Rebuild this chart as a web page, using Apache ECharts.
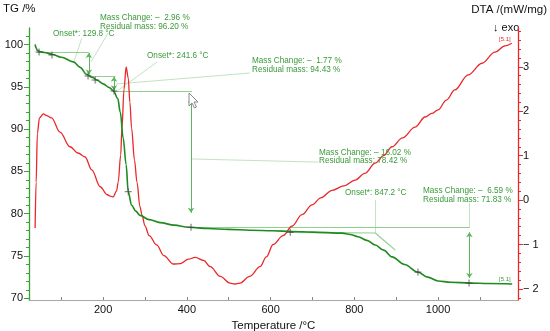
<!DOCTYPE html>
<html><head><meta charset="utf-8">
<script src="https://cdn.jsdelivr.net/npm/echarts@6/dist/echarts.min.js"></script>
<style>html,body{margin:0;padding:0;background:#fff}#c{width:550px;height:331px}</style>
</head><body><div id="c"></div>
<script>
// TG curve (Temperature °C, TG %)
const tgT = [37.6,40,43,50,60,78,100,129,145,161,175,185,200,215,225,235,241,248,255,260,268,278,288,310,336,370,404,450,500,550,606,650,700,771,790,809,830,850,870,890,920,952,975,1000,1030,1076,1120,1177];
const tgV = [100.0,99.6,99.3,99.15,99.05,98.85,98.5,97.95,97.3,96.45,96.1,95.8,95.35,94.9,94.5,93.6,92.0,88.9,85.8,82.6,81.0,80.3,79.8,79.3,78.95,78.65,78.4,78.25,78.15,78.05,77.98,77.9,77.82,77.7,77.55,77.28,76.85,76.3,75.7,74.9,74.0,73.1,72.5,72.05,71.9,71.8,71.75,71.7];
// DTA curve (Temperature °C, mW/mg)
const dtaT = [37.6,40,43,48,57.5,65,77,97,121,140,157,173,193,210,217,224,232,236,242,245,250,255,260,264,268,275,281,288,293,300,310,328,345,368,385,404,420,440,456,480,503,515,527,550,575,590,606,630,651,675,699,720,747,775,802,825,850,870,890,915,945,969,985,1000,1020,1040,1072,1105,1136,1160,1176];
const dtaV = [-0.63,0.4,1.5,1.85,1.94,1.9,1.85,1.53,1.2,1.06,0.97,0.68,0.3,0.12,0.09,0.07,0.2,0.4,1.01,1.62,2.5,3.0,2.75,2.2,1.62,0.9,0.4,-0.15,-0.34,-0.58,-0.8,-1.01,-1.25,-1.44,-1.43,-1.33,-1.29,-1.36,-1.5,-1.72,-1.87,-1.89,-1.87,-1.72,-1.5,-1.28,-1.0,-0.8,-0.59,-0.33,-0.11,0.05,0.22,0.32,0.45,0.6,0.83,1.0,1.2,1.4,1.64,1.87,1.95,2.03,2.25,2.48,2.82,3.08,3.33,3.47,3.53];
// "+" evaluation markers on TG
const markT = [47,78,164,181,226,260,410,647,952,1074];
const markV = [99.11,98.76,96.28,95.8,94.5,82.6,78.4,77.8,73.1,71.8];
// step levels (T1, TG1, T2, TG2)
const levelLines = [[42,99.1,166,99.1],[166,96.28,229,96.28],[224,94.5,412,94.5],[404,78.45,1076,78.45],[647,77.8,850,77.72],[850,77.72,898,75.7]];
// double-headed arrows (T, TG top, TG bottom)
const arrows = [[166,99.0,96.45],[226,96.2,94.6],[410,93.7,80.1],[1075,77.8,72.4]];
// leader lines (T1, TG1, T2, TG2)
const leaders = [[149,100.73,129,97.78],[212,101.36,171,97.93],[329,97.93,236,94.6],[551,96.63,231,95.33],[410,86.47,714,86.1],[850,81.62,850,77.72],[1074,81.27,1074,78.45]];
// axis tick labels
const xTicks = [200,400,600,800,1000];
const tgTicks = [70,75,80,85,90,95,100];
const dtaTicks = [-2,-1,0,1,2,3];
// annotation texts
const annTexts = [
  {t:'Onset*: 129.8 °C', x:53, y:29.5},
  {t:'Mass Change: –  2.96 %\nResidual mass: 96.20 %', x:100, y:13.5},
  {t:'Onset*: 241.6 °C', x:147, y:51.5},
  {t:'Mass Change: –  1.77 %\nResidual mass: 94.43 %', x:252, y:56.5},
  {t:'Mass Change: – 16.02 %\nResidual mass: 78.42 %', x:319, y:148},
  {t:'Onset*: 847.2 °C', x:345, y:188.5},
  {t:'Mass Change: –  6.59 %\nResidual mass: 71.83 %', x:423, y:186.5}
];

const range = (a,b,s)=>{const r=[];for(let v=a;v<=b+1e-9;v+=s)r.push(+v.toFixed(4));return r;};
const zip = (a,b)=>a.map((v,i)=>[v,b[i]]);
const minusFmt = v => v < 0 ? '− ' + Math.abs(v) : String(v);

const FONT = 'Liberation Sans, Arial, sans-serif';
const chart = echarts.init(document.getElementById('c'), null, {renderer:'canvas'});
const greenL = '#8fcf8f', greenM = '#5db55d', leaderC = '#c2e4c2';

const option = {
  animation:false,
  backgroundColor:'#fff',
  grid:{left:29,right:32,top:28,bottom:31,containLabel:false,outerBoundsMode:'none'},
  xAxis:{
    type:'value', min:23, max:1191,
    name:'Temperature /°C', nameLocation:'middle', nameGap:15,
    nameTextStyle:{color:'#111', fontSize:11.5, fontFamily:FONT},
    axisLine:{show:true, onZero:false, lineStyle:{color:'#a8a8a8', width:1}},
    axisTick:{show:true, inside:true, length:3, customValues:range(100,1100,100), lineStyle:{color:'#888'}},
    axisLabel:{customValues:xTicks, formatter:v=>String(v), color:'#111', fontSize:11, fontFamily:FONT, margin:4},
    splitLine:{show:false}
  },
  yAxis:[
    {
      type:'value', min:69.8, max:101.95, position:'left',
      axisLine:{show:true, lineStyle:{color:'#3aa03a', width:1.3}},
      axisTick:{show:true, length:3, customValues:range(70,101,1), lineStyle:{color:'#3aa03a'}},
      axisLabel:{customValues:tgTicks, color:'#111', fontSize:11, fontFamily:FONT, margin:6},
      splitLine:{show:false}
    },
    {
      type:'value', min:-2.25, max:3.874, position:'right',
      axisLine:{show:true, lineStyle:{color:'#e8282a', width:1.3}},
      axisTick:{show:true, length:3, customValues:range(-2.2,3.8,0.2), lineStyle:{color:'#e8282a'}},
      axisLabel:{customValues:dtaTicks, formatter:minusFmt, color:'#111', fontSize:11, fontFamily:FONT, margin:5},
      splitLine:{show:false}
    },
    {
      type:'value', min:69.8, max:101.95, position:'left',
      axisLine:{show:false},
      axisTick:{show:true, length:5, customValues:tgTicks, lineStyle:{color:'#3aa03a'}},
      axisLabel:{show:false}, splitLine:{show:false}
    },
    {
      type:'value', min:-2.25, max:3.874, position:'right',
      axisLine:{show:false},
      axisTick:{show:true, length:5, customValues:dtaTicks, lineStyle:{color:'#e8282a'}},
      axisLabel:{show:false}, splitLine:{show:false}
    }
  ],
  series:[
    {type:'lines', coordinateSystem:'cartesian2d', yAxisIndex:0, silent:true, symbol:'none',
     lineStyle:{color:leaderC, width:1, opacity:1},
     data: leaders.map(s=>({coords:[[s[0],s[1]],[s[2],s[3]]]}))},
    {type:'lines', coordinateSystem:'cartesian2d', yAxisIndex:0, silent:true, symbol:'none',
     lineStyle:{color:greenL, width:1.2, opacity:1},
     data: levelLines.map(s=>({coords:[[s[0],s[1]],[s[2],s[3]]]}))},
    {type:'lines', coordinateSystem:'cartesian2d', yAxisIndex:0, silent:true,
     symbol:['arrow','arrow'], symbolSize:5,
     lineStyle:{color:greenM, width:1, opacity:1},
     data: arrows.map(a=>({coords:[[a[0],a[1]],[a[0],a[2]]]}))},
    {type:'line', yAxisIndex:1, data:zip(dtaT,dtaV), smooth:0.35, smoothMonotone:'x',
     symbol:'none', lineStyle:{color:'#e8282a', width:1.3}, z:3},
    {type:'line', yAxisIndex:0, data:zip(tgT,tgV), smooth:0.35, smoothMonotone:'x',
     symbol:'none', lineStyle:{color:'#1f8a1f', width:1.6}, z:4},
    {type:'scatter', yAxisIndex:0, data:zip(markT,markV), z:5,
     symbol:'path://M0,5L10,5M5,0L5,10', symbolSize:7,
     itemStyle:{color:'rgba(0,0,0,0)', borderColor:'#444', borderWidth:1}}
  ],
  graphic:[
    {type:'text', left:3, top:3, style:{text:'TG /%', fill:'#111', font:'11.5px '+FONT}},
    {type:'text', right:3, top:4, style:{text:'DTA /(mW/mg)', fill:'#111', font:'11.5px '+FONT}},
    {type:'text', left:493, top:22, style:{text:'↓ exo', fill:'#111', font:'11px '+FONT}},
    {type:'text', left:499, top:36, style:{text:'[5.1]', fill:'#e8282a', font:'6px '+FONT}},
    {type:'text', left:499, top:276, style:{text:'[5.1]', fill:'#3a9a3a', font:'6px '+FONT}},
    {type:'polygon', x:189, y:93, shape:{points:[[0,0],[0,13],[3,10],[5.5,15],[7.5,14],[5,9],[9,9]]},
     style:{fill:'#fff', stroke:'#888', lineWidth:1}, z:100}
  ].concat(annTexts.map(a=>({type:'text', left:a.x, top:a.y, z:50,
     style:{text:a.t, fill:'#3a9a3a', font:'8.2px '+FONT, lineHeight:8.6}})))
};
chart.setOption(option);
</script></body></html>
